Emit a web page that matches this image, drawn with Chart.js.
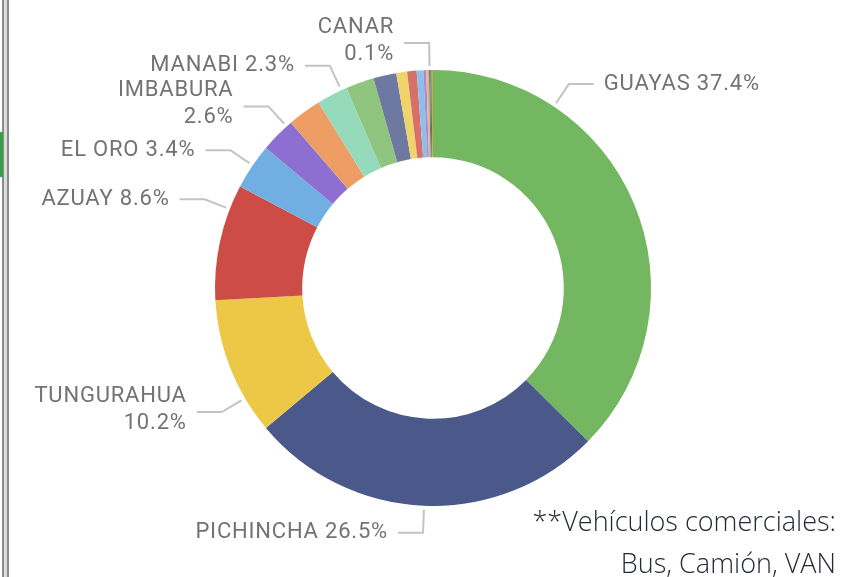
<!DOCTYPE html>
<html>
<head>
<meta charset="utf-8">
<script src="https://cdn.jsdelivr.net/npm/chart.js@4"></script>
<style>
  html, body { margin: 0; padding: 0; background: #fff; }
  #wrap { position: relative; width: 851px; height: 577px; overflow: hidden; }
  #frame { position: absolute; left: 2px; top: 0; width: 3px; height: 577px;
           border-left: 2px solid #8c8c8c; border-right: 2px solid #8c8c8c; background: #dcdcdc; }
  #mark { position: absolute; left: 0; top: 132px; width: 3px; height: 45px; background: #35a046; }
  #note { position: absolute; right: 15px; top: 500px; text-align: right;
          font-family: "Open Sans", sans-serif; font-weight: 300; font-size: 27px;
          line-height: 42px; color: #252a36; }
</style>
</head>
<body>
<div id="wrap">
  <canvas id="provChart" width="851" height="577"></canvas>
  <div id="frame"></div>
  <div id="mark"></div>
  <div id="note">**Vehículos comerciales:<br>Bus, Camión, VAN</div>
</div>
<script>
// provincias y participación (%)
const provincias = ['GUAYAS', 'PICHINCHA', 'TUNGURAHUA', 'AZUAY', 'EL ORO', 'IMBABURA', 'LOJA',
    'MANABI', 'SANTO DOMINGO', 'COTOPAXI', 'CHIMBORAZO', 'LOS RIOS', 'ESMERALDAS',
    'SUCUMBIOS', 'ORELLANA', 'CANAR', 'CARCHI', 'BOLIVAR'];
const participacion = [37.4, 26.5, 10.2, 8.6, 3.4, 2.6, 2.5, 2.3, 2.1, 1.7, 0.8, 0.7, 0.5,
    0.2, 0.2, 0.1, 0.1, 0.1];
const colores = ['#73B761', '#4A588A', '#ECC846', '#CD4C46', '#71AFE2', '#8D6FD1', '#EE9E64',
    '#95DABB', '#8FC57F', '#6E79A2', '#F0D36B', '#D7706B', '#8DBFE8', '#A48CDA', '#F1B183',
    '#56904A', '#5C6A96', '#C9A93A'];

// slices that get a label, where along the slice the leader starts (0..1), and line breaks
const etiquetas = {
    'GUAYAS': { at: 0.25, split: false },
    'PICHINCHA': { at: 0.5, split: false },
    'TUNGURAHUA': { at: 0.26, split: true },
    'AZUAY': { at: 0.79, split: false },
    'EL ORO': { at: 0.53, split: false },
    'IMBABURA': { at: 0.84, split: true },
    'MANABI': { at: 0.82, split: false },
    'CANAR': { at: 0.5, split: true }
};

const leaderLabels = {
    id: 'leaderLabels',
    afterDatasetsDraw(chart) {
        const ctx = chart.ctx;
        const meta = chart.getDatasetMeta(0);
        ctx.save();
        ctx.font = '22px Roboto, sans-serif';
        ctx.letterSpacing = '0.8px';
        ctx.textBaseline = 'middle';
        meta.data.forEach((arc, i) => {
            const cfg = etiquetas[provincias[i]];
            if (!cfg) return;
            const a = arc.startAngle + (arc.endAngle - arc.startAngle) * cfg.at;
            const r0 = arc.outerRadius + 4, r1 = arc.outerRadius + 27;
            const x0 = arc.x + r0 * Math.cos(a), y0 = arc.y + r0 * Math.sin(a);
            const x1 = arc.x + r1 * Math.cos(a), y1 = arc.y + r1 * Math.sin(a);
            const dir = Math.cos(a) > 0 ? 1 : -1;
            const x2 = x1 + dir * 25;
            ctx.strokeStyle = '#c3c3c3';
            ctx.lineWidth = 2;
            ctx.beginPath();
            ctx.moveTo(x0, y0);
            ctx.lineTo(x1, y1);
            ctx.lineTo(x2, y1);
            ctx.stroke();
            ctx.fillStyle = '#737373';
            ctx.textAlign = dir > 0 ? 'left' : 'right';
            const tx = x2 + dir * 10;
            const pct = participacion[i].toFixed(1) + '%';
            if (cfg.split) {
                ctx.fillText(provincias[i], tx, y1 - 16);
                ctx.fillText(pct, tx, y1 + 11);
            } else {
                ctx.fillText(provincias[i] + ' ' + pct, tx, y1);
            }
        });
        ctx.restore();
    }
};

new Chart(document.getElementById('provChart').getContext('2d'), {
    type: 'doughnut',
    data: {
        labels: provincias,
        datasets: [{
            data: participacion,
            backgroundColor: colores,
            borderWidth: 0
        }]
    },
    options: {
        responsive: false,
        animation: false,
        cutout: '60%',
        layout: { padding: { left: 15, right: 0, top: 70, bottom: 71 } },
        plugins: { legend: { display: false }, tooltip: { enabled: false } }
    },
    plugins: [leaderLabels]
});
</script>
</body>
</html>
